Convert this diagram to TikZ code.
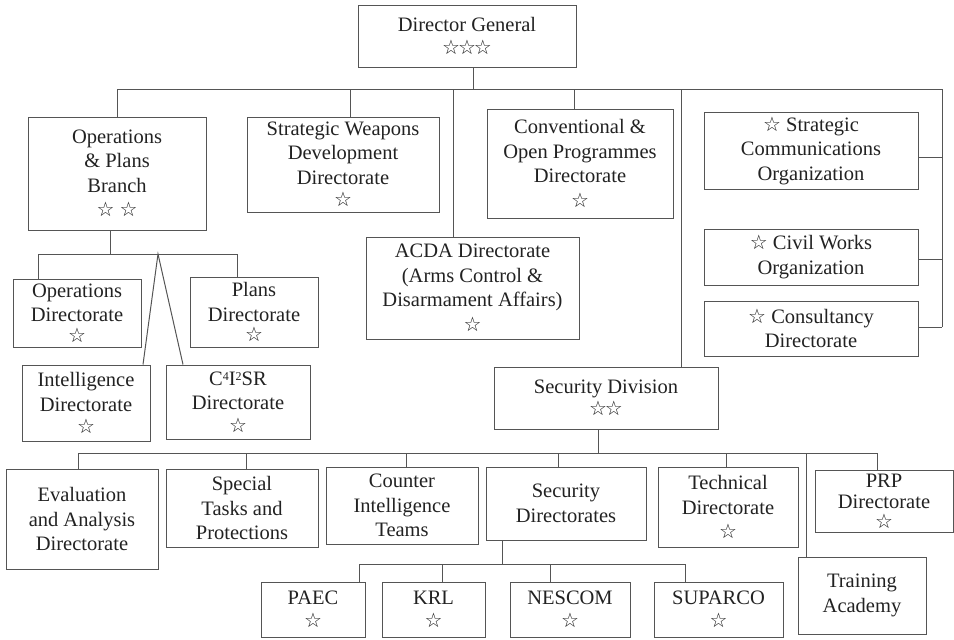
\documentclass[tikz,border=0pt]{standalone}
\usepackage{fontspec}
\setmainfont{Liberation Serif}
\newfontfamily\symf{DejaVu Sans}
\newcommand{\stx}{{\symf\fontsize{20}{20}\selectfont ☆}}
\newcommand{\supx}[1]{\raisebox{0.55ex}{\fontsize{12}{12}\selectfont #1}}
\definecolor{ln}{HTML}{555555}
\definecolor{tx}{HTML}{222222}
\tikzset{
  box/.style={draw=ln, line width=1pt, inner sep=0pt, align=center, text=tx,
    font=\fontsize{20.5}{24.5}\selectfont},
  conn/.style={draw=ln, line width=1pt},
}
\begin{document}
\begin{tikzpicture}[x=1pt,y=-1pt]
\useasboundingbox (0,0) rectangle (954,640);
% top level
\node[box, minimum width=218, minimum height=62] (DG) at (467,36) {Director General\\[-2pt]{\symf\fontsize{20}{20}\selectfont ☆\kern-2pt☆\kern-2pt☆}};
\node[box, minimum width=178, minimum height=113] (OP) at (117,173.5) {Operations\\\& Plans\\Branch\\\stx\ \stx};
\node[box, minimum width=192, minimum height=95] (SWD) at (343,164.5) {Strategic Weapons\\Development\\Directorate\\[-2pt]\stx};
\node[box, minimum width=186, minimum height=109] (COP) at (580,163.5) {Conventional \&\\Open Programmes\\Directorate\\\stx};
\node[box, minimum width=213, minimum height=102] (ACDA) at (472.5,288) {ACDA Directorate\\(Arms Control \&\\Disarmament Affairs)\\\stx};
\node[box, minimum width=214, minimum height=77] (SCO) at (811,150.5) {\stx\ Strategic\\Communications\\Organization};
\node[box, minimum width=214, minimum height=56] (CWO) at (811,257) {\stx\ Civil Works\\Organization};
\node[box, minimum width=214, minimum height=55] (CD) at (811,328.5) {\stx\ Consultancy\\Directorate};
\node[box, minimum width=224, minimum height=62] (SD) at (606,398) {Security Division\\[-2pt]{\symf\fontsize{20}{20}\selectfont ☆\kern-2pt☆}};
% operations branch
\node[box, minimum width=128, minimum height=68] (OD) at (77,313) {Operations\\Directorate\\[-4pt]\stx};
\node[box, minimum width=128, minimum height=70] (PD) at (254,312) {Plans\\Directorate\\[-4pt]\stx};
\node[box, minimum width=128, minimum height=76] (ID) at (86,403) {Intelligence\\Directorate\\[-2pt]\stx};
\node[box, minimum width=144, minimum height=74] (C4) at (238,402) {C\supx{4}I\supx{2}SR\\Directorate\\[-2pt]\stx};
% security division
\node[box, minimum width=152, minimum height=100] (EA) at (82,519) {Evaluation\\and Analysis\\Directorate};
\node[box, minimum width=152, minimum height=78] (ST) at (242,508) {Special\\Tasks and\\Protections};
\node[box, minimum width=152, minimum height=77] (CI) at (402,505.5) {Counter\\Intelligence\\Teams};
\node[box, minimum width=160, minimum height=73] (SDir) at (566,503.5) {Security\\Directorates};
\node[box, minimum width=140, minimum height=80] (TD) at (728,507) {Technical\\Directorate\\\stx};
\node[box, minimum width=138, minimum height=62, font=\fontsize{20.5}{21}\selectfont] (PRP) at (884,501) {PRP\\Directorate\\[-1pt]\stx};
\node[box, minimum width=128, minimum height=77] (TA) at (862,595.5) {Training\\Academy};
\node[box, minimum width=104, minimum height=55] (PAEC) at (313,609.5) {PAEC\\[-2pt]\stx};
\node[box, minimum width=103, minimum height=55] (KRL) at (433.5,609.5) {KRL\\[-2pt]\stx};
\node[box, minimum width=120, minimum height=55] (NES) at (570,609.5) {NESCOM\\[-2pt]\stx};
\node[box, minimum width=129, minimum height=55] (SUP) at (718.5,609.5) {SUPARCO\\[-2pt]\stx};
% junction coordinates
\coordinate (b0) at (473,89);
\coordinate (bL) at (117,89);
\coordinate (bR) at (942,89);
\coordinate (rB) at (942,327);
\coordinate (s1) at (110,254);
\coordinate (s1L) at (38,254);
\coordinate (s1R) at (237,254);
\coordinate (apex) at (158,254);
\coordinate (s2) at (598,453);
\coordinate (s2L) at (78,453);
\coordinate (s2R) at (877,453);
\coordinate (s3) at (502,564);
\coordinate (s3L) at (359,564);
\coordinate (s3R) at (685,564);
% top connectors
\draw[conn] (DG.south -| b0) -- (b0);
\draw[conn] (bL) -- (bR) -- (rB);
\draw[conn] (OP.north) -- (OP.north |- b0);
\draw[conn] (SWD.north -| 350,0) -- (350,89);
\draw[conn] (ACDA.north -| 453,0) -- (453,89);
\draw[conn] (COP.north -| 574,0) -- (574,89);
\draw[conn] (SD.north -| 681,0) -- (681,89);
\draw[conn] (SCO.east |- 0,157) -- (942,157);
\draw[conn] (CWO.east |- 0,259) -- (942,259);
\draw[conn] (CD.east |- rB) -- (rB);
% operations branch connectors
\draw[conn] (OP.south -| s1) -- (s1);
\draw[conn] (s1L) -- (s1R);
\draw[conn] (s1L) -- (OD.north -| s1L);
\draw[conn] (s1R) -- (PD.north -| s1R);
\draw[conn] (ID.north -| 143,0) -- (apex) -- (C4.north -| 183,0);
% security division connectors
\draw[conn] (SD.south -| s2) -- (s2);
\draw[conn] (s2L) -- (s2R);
\draw[conn] (s2L) -- (EA.north -| s2L);
\draw[conn] (246,453) -- (ST.north -| 246,0);
\draw[conn] (406,453) -- (CI.north -| 406,0);
\draw[conn] (558,453) -- (SDir.north -| 558,0);
\draw[conn] (726,453) -- (TD.north -| 726,0);
\draw[conn] (806,453) -- (TA.north -| 806,0);
\draw[conn] (s2R) -- (PRP.north -| s2R);
% security directorates connectors
\draw[conn] (SDir.south -| s3) -- (s3);
\draw[conn] (s3L) -- (s3R);
\draw[conn] (s3L) -- (PAEC.north -| s3L);
\draw[conn] (442,564) -- (KRL.north -| 442,0);
\draw[conn] (550,564) -- (NES.north -| 550,0);
\draw[conn] (s3R) -- (SUP.north -| s3R);
\end{tikzpicture}
\end{document}
